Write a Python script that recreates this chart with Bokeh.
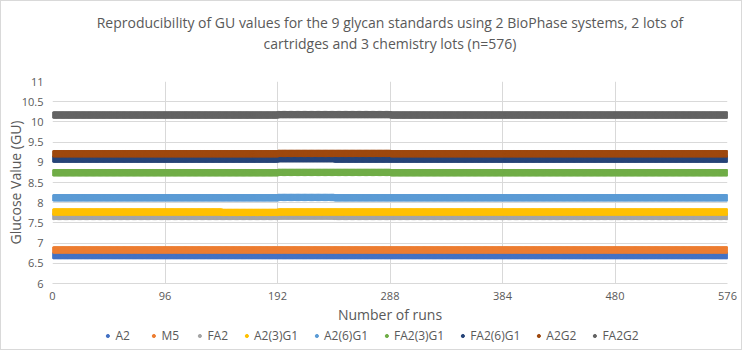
import numpy as np
from bokeh.plotting import figure
from bokeh.layouts import column
from bokeh.models import Range1d, Legend, LegendItem, Title, FixedTicker, ColumnDataSource
from bokeh.embed import file_html
from bokeh.resources import INLINE

# ---- data (values per block of 48 runs) ----
n_runs = 576
block_size = 48
series_names = ["A2", "M5", "FA2", "A2(3)G1", "A2(6)G1", "FA2(3)G1", "FA2(6)G1", "A2G2", "FA2G2"]
a2 = [6.69, 6.69, 6.69, 6.69, 6.69, 6.69, 6.69, 6.69, 6.69, 6.69, 6.69, 6.69]
m5 = [6.83, 6.83, 6.83, 6.83, 6.83, 6.83, 6.83, 6.83, 6.83, 6.83, 6.83, 6.83]
fa2 = [7.66, 7.66, 7.66, 7.66, 7.67, 7.66, 7.66, 7.66, 7.66, 7.66, 7.66, 7.66]
a2_3g1 = [7.77, 7.77, 7.77, 7.76, 7.77, 7.77, 7.77, 7.77, 7.77, 7.77, 7.77, 7.77]
a2_6g1 = [8.12, 8.12, 8.12, 8.12, 8.13, 8.12, 8.12, 8.12, 8.12, 8.12, 8.12, 8.12]
fa2_3g1 = [8.74, 8.74, 8.74, 8.74, 8.75, 8.75, 8.74, 8.74, 8.74, 8.74, 8.74, 8.74]
fa2_6g1 = [9.08, 9.08, 9.08, 9.08, 9.09, 9.08, 9.08, 9.08, 9.08, 9.08, 9.08, 9.08]
a2g2 = [9.21, 9.21, 9.21, 9.21, 9.22, 9.22, 9.21, 9.21, 9.21, 9.21, 9.21, 9.21]
fa2g2 = [10.17, 10.17, 10.17, 10.17, 10.18, 10.18, 10.17, 10.17, 10.17, 10.17, 10.17, 10.17]
series_values = [a2, m5, fa2, a2_3g1, a2_6g1, fa2_3g1, fa2_6g1, a2g2, fa2g2]
colors = ["#4472C4", "#ED7D31", "#A5A5A5", "#FFC000", "#5B9BD5", "#70AD47", "#264478", "#9E480E", "#636363"]

x_ticks = [0, 96, 192, 288, 384, 480, 576]
y_ticks = [6, 6.5, 7, 7.5, 8, 8.5, 9, 9.5, 10, 10.5, 11]
title_line1 = "Reproducibility of GU values for the 9 glycan standards using 2 BioPhase systems, 2 lots of"
title_line2 = "cartridges and 3 chemistry lots (n=576)"

FONT = "Open Sans"
GREY = "#595959"

p = figure(frame_width=675, frame_height=202, output_backend="svg", toolbar_location=None,
           x_range=Range1d(0, n_runs), y_range=Range1d(6, 11),
           min_border_left=51, min_border_right=14, min_border_top=80, min_border_bottom=44)
p.outline_line_color = None

# legend strip under the chart (its ranges keep the shared data out of view)
lp = figure(frame_width=740, frame_height=16, output_backend="svg", toolbar_location=None,
            x_range=Range1d(0, 1), y_range=Range1d(0, 1),
            min_border_left=0, min_border_right=0, min_border_top=0, min_border_bottom=6)
lp.axis.visible = False
lp.grid.visible = False
lp.outline_line_color = None

runs = np.arange(1, n_runs + 1)
items = []
for name, vals, col in zip(series_names, series_values, colors):
    y = np.repeat(np.array(vals), block_size)[:n_runs]
    src = ColumnDataSource(dict(x=runs, y=y))
    p.scatter("x", "y", source=src, size=6.5, color=col, line_color=col)
    r = lp.scatter("x", "y", source=src, size=7, color=col, line_color=col)
    items.append(LegendItem(label=name, renderers=[r]))

# axes
p.xaxis.ticker = FixedTicker(ticks=x_ticks)
p.yaxis.ticker = FixedTicker(ticks=y_ticks)
p.xaxis.major_label_overrides = {t: str(t) for t in x_ticks}
p.yaxis.major_label_overrides = {t: (str(t) if t != int(t) else str(int(t))) for t in y_ticks}
for ax in (p.xaxis[0], p.yaxis[0]):
    ax.major_tick_line_color = None
    ax.minor_tick_line_color = None
    ax.major_tick_out = 0
    ax.major_tick_in = 0
    ax.major_label_text_font = FONT
    ax.major_label_text_font_size = "11px"
    ax.major_label_text_color = GREY
    ax.axis_label_text_font = FONT
    ax.axis_label_text_font_size = "14px"
    ax.axis_label_text_font_style = "normal"
    ax.axis_label_text_color = GREY
p.xaxis.axis_line_color = "#d9d9d9"
p.yaxis.axis_line_color = None
p.xaxis.axis_label = "Number of runs"
p.yaxis.axis_label = "Glucose Value (GU)"
p.xaxis.major_label_standoff = 8
p.xaxis.axis_label_standoff = 2
p.yaxis.major_label_standoff = 9
p.yaxis.axis_label_standoff = -6

p.xgrid.grid_line_color = "#d9d9d9"
p.ygrid.grid_line_color = "#d9d9d9"

# titles (spacer nearest the frame, then the two title lines)
p.add_layout(Title(text=" ", text_font_size="24px", standoff=0), "above")
p.add_layout(Title(text=title_line2, align="center", text_font=FONT, text_font_size="14px",
                   text_font_style="normal", text_color=GREY, standoff=0), "above")
p.add_layout(Title(text=title_line1, align="center", text_font=FONT, text_font_size="14px",
                   text_font_style="normal", text_color=GREY, standoff=0), "above")

legend = Legend(items=items, orientation="horizontal", location="center",
                label_text_font=FONT, label_text_font_size="12px", label_text_color=GREY,
                border_line_color=None, background_fill_alpha=0, glyph_width=8, glyph_height=8,
                label_standoff=4, spacing=14, padding=0, margin=0)
lp.add_layout(legend, "center")

layout = column(p, lp, spacing=0)
layout.styles = {"border": "1px solid #d9d9d9"}

open("out.html", "w").write(file_html(layout, INLINE))
